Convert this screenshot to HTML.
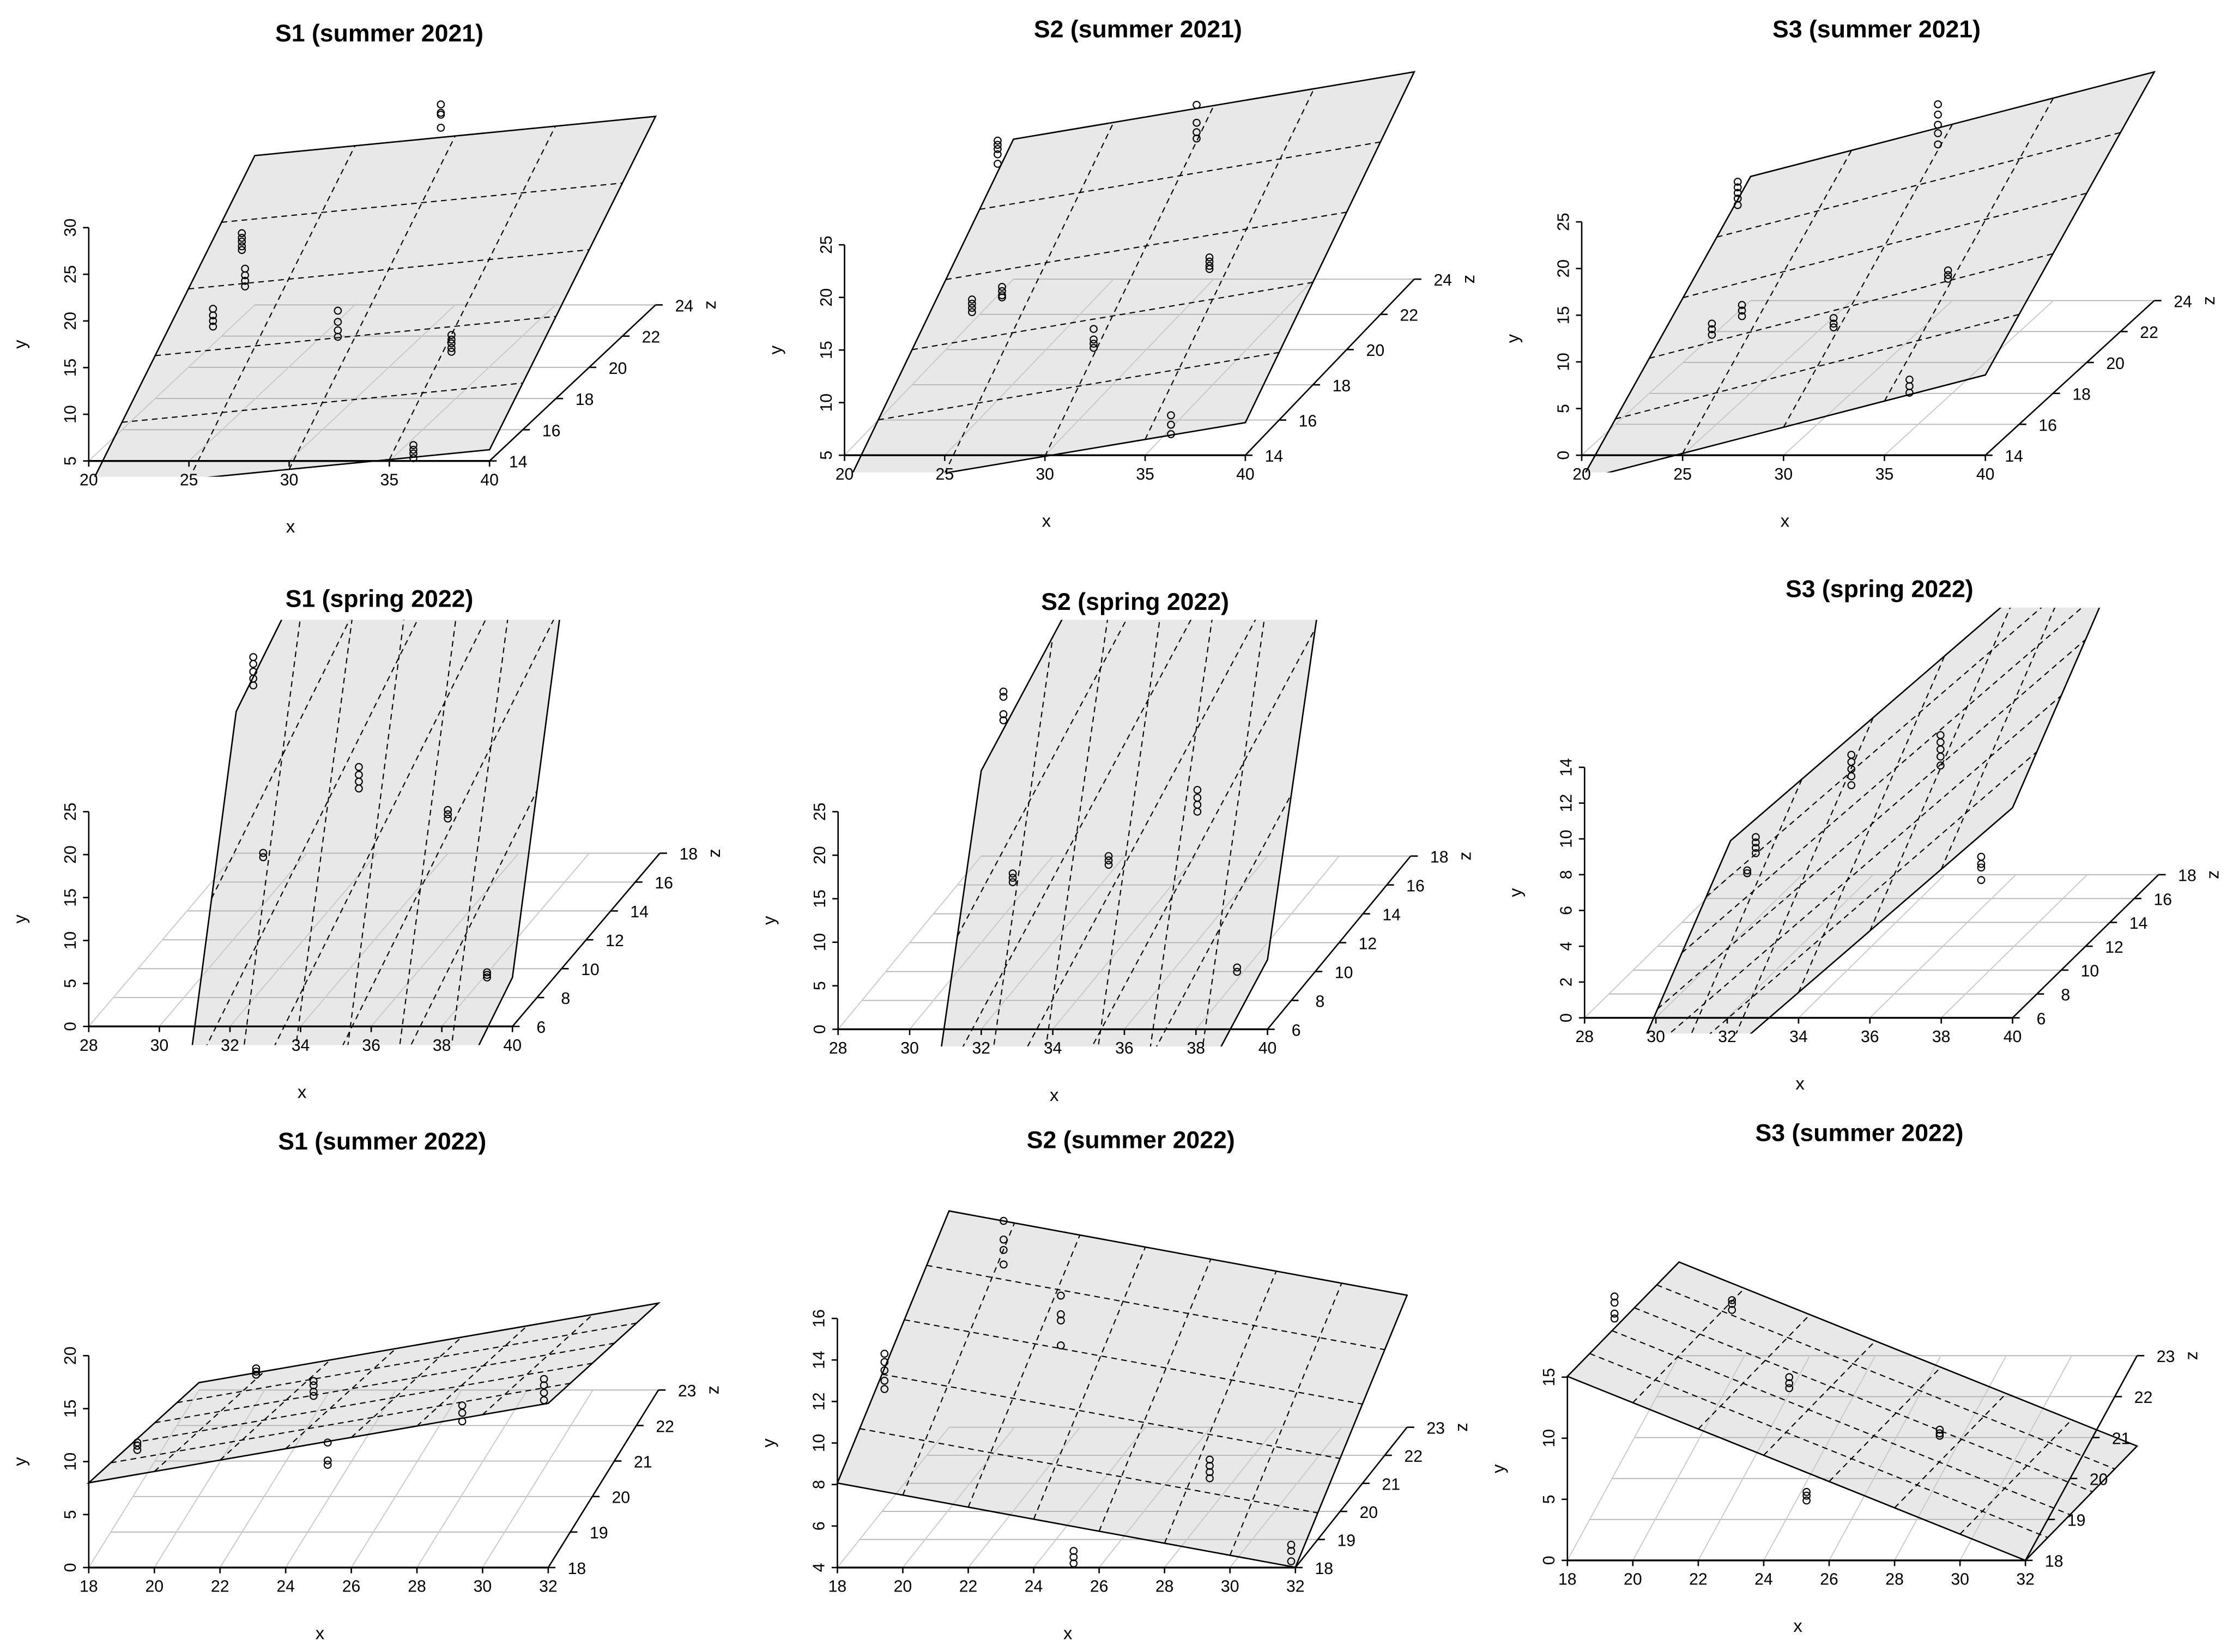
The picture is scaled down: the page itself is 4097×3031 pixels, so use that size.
<!DOCTYPE html>
<html><head><meta charset="utf-8"><title>3D regression planes</title>
<style>
html,body{margin:0;padding:0;background:#fff;width:4097px;height:3031px;overflow:hidden;position:relative;}
svg{display:block;position:absolute;left:0;top:0;font-family:"Liberation Sans",Arial,sans-serif;}
script{display:none;}
</style></head>
<body>
<svg id="chart" xmlns="http://www.w3.org/2000/svg" width="4097" height="3031" viewBox="0 0 1560 1154" preserveAspectRatio="none" overflow="hidden"></svg>
<script>
const s1su21X = [37.57, 27.64, 27.8, 26.2, 32.43, 38.1, 36.2];
const s1su21Y = [[43.2,42.3,42.1,40.7],[29.4,28.9,28.5,28.0,27.6],[25.6,24.9,24.3,23.7],[21.3,20.6,20.0,19.4],[21.1,19.9,19.0,18.3],[18.5,18.0,17.6,17.1,16.7],[6.7,6.2,5.8,5.3]];
const s1su21Z = [14,14,14,14,14,14,14];
const s1su21Plane = [-28.8, 0.21, 1.9];

const s2su21X = [27.64, 37.57, 26.36, 27.86, 38.21, 32.43, 36.29];
const s2su21Y = [[34.9,34.5,34.1,33.6,32.7],[38.3,36.6,35.7,35.1],[19.8,19.4,19.0,18.6],[21.0,20.6,20.2,20.0],[23.8,23.4,23.0,22.7],[17.0,16.0,15.6,15.2],[8.8,7.9,7.0]];
const s2su21Z = [14,14,14,14,14,14,14];
const s2su21Plane = [-27.94, 0.32, 1.66];

const s3su21X = [27.73, 37.65, 26.45, 27.94, 32.48, 38.15, 36.24];
const s3su21Y = [[29.3,28.7,28.1,27.5,26.8],[37.6,36.5,35.4,34.5,33.3],[14.1,13.5,12.9],[16.1,15.5,14.9],[14.7,14.1,13.7],[19.8,19.3,18.9],[8.1,7.4,6.7]];
const s3su21Z = [14,14,14,14,14,14,14];
const s3su21Plane = [-36.06, 0.56, 1.59];

const s1sp22X = [32.66, 32.94, 35.65, 38.17, 39.28];
const s1sp22Y = [[43.0,42.2,41.3,40.5,39.7],[20.2,19.7],[30.2,29.3,28.5,27.7],[25.2,24.7,24.2],[6.3,6.0,5.7]];
const s1sp22Z = [6,6,6,6,6];
const s1sp22Plane = [-381.5, 8.3, 9.2];

const s2sp22X = [32.62, 32.88, 35.56, 38.04, 39.15];
const s2sp22Y = [[38.8,38.2,36.2,35.5],[17.9,17.4,16.9],[19.9,19.4,18.9],[27.5,26.6,25.8,25.0],[7.1,6.6]];
const s2sp22Z = [6,6,6,6,6];
const s2sp22Plane = [-347.1, 7.7, 7.85];

const s3sp22X = [32.56, 32.8, 35.48, 37.98, 39.12];
const s3sp22Y = [[8.24,8.08],[10.1,9.8,9.5,9.2],[14.7,14.3,13.9,13.5,13.0],[15.8,15.4,15.0,14.6,14.1],[9.0,8.6,8.4,7.7]];
const s3sp22Z = [6,6,6,6,6];
const s3sp22Plane = [-62.46, 1.72, 0.9];

const s1su22X = [19.48, 23.1, 24.85, 25.28, 29.38, 31.87];
const s1su22Y = [[11.8,11.5,11.1],[18.8,18.5,18.2],[17.6,17.2,16.6,16.2],[11.8,10.1,9.7],[15.3,14.6,13.8],[17.8,17.2,16.5,15.8]];
const s1su22Z = [18,18,18,18,18,18];
const s1su22Plane = [24.63, 0.536, -1.46];

const s2su22X = [19.44, 23.08, 24.83, 29.38, 25.22, 31.87];
const s2su22Y = [[14.3,13.9,13.5,13.0,12.6],[20.7,19.8,19.3,18.6],[17.1,16.2,15.9,14.7],[9.2,8.9,8.6,8.3],[4.8,4.5,4.2],[5.1,4.8,4.3]];
const s2su22Z = [18,18,18,18,18,18];
const s2su22Plane = [-9.57, -0.29, 1.27];

const s3su22X = [19.44, 23.03, 24.78, 25.31, 29.38];
const s3su22Y = [[21.6,21.1,20.2,19.8],[21.3,21.0,20.5],[15.0,14.5,14.1],[5.6,5.3,4.9],[10.7,10.4,10.2]];
const s3su22Z = [18,18,18,18,18];
const s3su22Plane = [61.07, -1.076, -1.48];

const ticks20to40 = [20,25,30,35,40];
const ticks14to24 = [14,16,18,20,22,24];
const ticks28to40 = [28,30,32,34,36,38,40];
const ticks6to18 = [6,8,10,12,14,16,18];
const ticks18to32 = [18,20,22,24,26,28,30,32];
const ticks18to23 = [18,19,20,21,22,23];

const panels = [
 {id:'s1-summer-2021', title:'S1 (summer 2021)', tx:265, ty:23, X:s1su21X, Y:s1su21Y, Z:s1su21Z, P:s1su21Plane,
  xr:[20,40], yr:[5,30], zr:[14,24], xt:ticks20to40, yt:[5,10,15,20,25,30], zt:ticks14to24,
  ox:62, oy:322, xw:280, yh:163, dzx:116, dzy:-109, clip:[0,333]},
 {id:'s2-summer-2021', title:'S2 (summer 2021)', tx:795, ty:20, X:s2su21X, Y:s2su21Y, Z:s2su21Z, P:s2su21Plane,
  xr:[20,40], yr:[5,25], zr:[14,24], xt:ticks20to40, yt:[5,10,15,20,25], zt:ticks14to24,
  ox:590, oy:318, xw:280, yh:147, dzx:118, dzy:-123, clip:[0,330]},
 {id:'s3-summer-2021', title:'S3 (summer 2021)', tx:1311, ty:20, X:s3su21X, Y:s3su21Y, Z:s3su21Z, P:s3su21Plane,
  xr:[20,40], yr:[0,25], zr:[14,24], xt:ticks20to40, yt:[0,5,10,15,20,25], zt:ticks14to24,
  ox:1105, oy:318, xw:282, yh:163, dzx:118, dzy:-108, clip:[0,330]},
 {id:'s1-spring-2022', title:'S1 (spring 2022)', tx:265, ty:418, X:s1sp22X, Y:s1sp22Y, Z:s1sp22Z, P:s1sp22Plane,
  xr:[28,40], yr:[0,25], zr:[6,18], xt:ticks28to40, yt:[0,5,10,15,20,25], zt:ticks6to18,
  ox:62, oy:717, xw:296, yh:150, dzx:103, dzy:-121, clip:[433,730]},
 {id:'s2-spring-2022', title:'S2 (spring 2022)', tx:793, ty:420, X:s2sp22X, Y:s2sp22Y, Z:s2sp22Z, P:s2sp22Plane,
  xr:[28,40], yr:[0,25], zr:[6,18], xt:ticks28to40, yt:[0,5,10,15,20,25], zt:ticks6to18,
  ox:585.5, oy:719, xw:300, yh:152, dzx:100, dzy:-121, clip:[433,731]},
 {id:'s3-spring-2022', title:'S3 (spring 2022)', tx:1313, ty:411, X:s3sp22X, Y:s3sp22Y, Z:s3sp22Z, P:s3sp22Plane,
  xr:[28,40], yr:[0,14], zr:[6,18], xt:ticks28to40, yt:[0,2,4,6,8,10,12,14], zt:ticks6to18,
  ox:1107, oy:711, xw:299, yh:175, dzx:102, dzy:-100, clip:[424.5,722]},
 {id:'s1-summer-2022', title:'S1 (summer 2022)', tx:267, ty:797, X:s1su22X, Y:s1su22Y, Z:s1su22Z, P:s1su22Plane,
  xr:[18,32], yr:[0,20], zr:[18,23], xt:ticks18to32, yt:[0,5,10,15,20], zt:ticks18to23,
  ox:62, oy:1095, xw:321, yh:148, dzx:77, dzy:-124, clip:[815,1110]},
 {id:'s2-summer-2022', title:'S2 (summer 2022)', tx:790, ty:796, X:s2su22X, Y:s2su22Y, Z:s2su22Z, P:s2su22Plane,
  xr:[18,32], yr:[4,16], zr:[18,23], xt:ticks18to32, yt:[4,6,8,10,12,14,16], zt:ticks18to23,
  ox:585, oy:1095, xw:320, yh:174, dzx:78, dzy:-98, clip:[815,1110]},
 {id:'s3-summer-2022', title:'S3 (summer 2022)', tx:1299, ty:791, X:s3su22X, Y:s3su22Y, Z:s3su22Z, P:s3su22Plane,
  xr:[18,32], yr:[0,15], zr:[18,23], xt:ticks18to32, yt:[0,5,10,15], zt:ticks18to23,
  ox:1095, oy:1090, xw:320, yh:128, dzx:78, dzy:-143, clip:[815,1110]}
];

const NS = 'http://www.w3.org/2000/svg';
const svg = document.getElementById('chart');
function mk(tag, attrs, parent){
  const el = document.createElementNS(NS, tag);
  for (const k in attrs) el.setAttribute(k, attrs[k]);
  parent.appendChild(el);
  return el;
}
const defs = mk('defs', {}, svg);

panels.forEach((p, pi) => {
  const g = mk('g', {}, svg);
  
  
  const sx = v => (v - p.xr[0]) / (p.xr[1] - p.xr[0]);
  const sz = v => (v - p.zr[0]) / (p.zr[1] - p.zr[0]);
  const sy = v => (v - p.yr[0]) / (p.yr[1] - p.yr[0]);
  const proj = (x, y, z) => [p.ox + sx(x) * p.xw + sz(z) * p.dzx, p.oy - sy(y) * p.yh + sz(z) * p.dzy];
  const plane = (x, z) => p.P[0] + p.P[1] * x + p.P[2] * z;
  const [x0, x1] = p.xr, [y0, y1] = p.yr, [z0, z1] = p.zr;

  const cp = mk('clipPath', {id:'clip' + pi}, defs);
  mk('rect', {x:p.ox - 70, y:p.clip[0], width:560, height:p.clip[1] - p.clip[0]}, cp);

  const t = mk('text', {x:p.tx, y:p.ty + 6, 'text-anchor':'middle', 'font-size':17, 'font-weight':'bold'}, g);
  t.textContent = p.title;
  
  

  const corners = [[x0,z0],[x1,z0],[x1,z1],[x0,z1]].map(c => proj(c[0], plane(c[0], c[1]), c[1]));
  const pts = corners.map(c => c.join(',')).join(' ');
  const pf = mk('polygon', {points:pts, fill:'#e8e8e8', stroke:'none', 'clip-path':'url(#clip' + pi + ')'}, g);
  
  

  const grid = mk('g', {stroke:'#b4b4b4', 'stroke-width':0.7}, g);
  
  
  p.zt.forEach(z => {
    const a = proj(x0, y0, z), b = proj(x1, y0, z);
    const l = mk('line', {x1:a[0], y1:a[1], x2:b[0], y2:b[1]}, grid);
    
    
  });
  p.xt.forEach(x => {
    const a = proj(x, y0, z0), b = proj(x, y0, z1);
    const l = mk('line', {x1:a[0], y1:a[1], x2:b[0], y2:b[1], stroke:'#c8c8c8'}, grid);
    
    
  });

  const dg = mk('g', {stroke:'#000', 'stroke-width':0.8, 'stroke-dasharray':'4,3', fill:'none', 'clip-path':'url(#clip' + pi + ')'}, g);
  
  
  p.xt.filter(x => x > x0 && x < x1).forEach(x => {
    const a = proj(x, plane(x, z0), z0), b = proj(x, plane(x, z1), z1);
    const l = mk('line', {x1:a[0], y1:a[1], x2:b[0], y2:b[1]}, dg);
    
    
  });
  p.zt.filter(z => z > z0 && z < z1).forEach(z => {
    const a = proj(x0, plane(x0, z), z), b = proj(x1, plane(x1, z), z);
    const l = mk('line', {x1:a[0], y1:a[1], x2:b[0], y2:b[1]}, dg);
    
    
  });

  const pb = mk('polygon', {points:pts, fill:'none', stroke:'#000', 'stroke-width':1, 'clip-path':'url(#clip' + pi + ')'}, g);
  
  

  const ax = mk('g', {stroke:'#000', 'stroke-width':1, 'font-size':11.5, fill:'#000'}, g);
  
  
  let a = proj(x0, y0, z0), b = proj(x1, y0, z0);
  const xl = mk('line', {x1:a[0], y1:a[1], x2:b[0], y2:b[1], 'stroke-width':1.3}, ax);
  
  
  p.xt.forEach(x => {
    const q = proj(x, y0, z0);
    const tk = mk('line', {x1:q[0], y1:q[1], x2:q[0], y2:q[1] + 4}, ax);
    
    
    const tl = mk('text', {x:q[0], y:q[1] + 17, 'text-anchor':'middle', stroke:'none'}, ax);
    tl.textContent = x;
    
    
  });
  b = proj(x0, y1, z0);
  const yl = mk('line', {x1:a[0], y1:a[1], x2:b[0], y2:b[1]}, ax);
  
  
  p.yt.forEach(y => {
    const q = proj(x0, y, z0);
    const tk = mk('line', {x1:q[0] - 4, y1:q[1], x2:q[0], y2:q[1]}, ax);
    
    
    const tl = mk('text', {x:0, y:0, transform:'translate(' + (q[0] - 9) + ',' + q[1] + ') rotate(-90)', 'text-anchor':'middle', stroke:'none'}, ax);
    tl.textContent = y;
    
    
  });
  a = proj(x1, y0, z0); b = proj(x1, y0, z1);
  const zl = mk('line', {x1:a[0], y1:a[1], x2:b[0], y2:b[1]}, ax);
  
  
  p.zt.forEach(z => {
    const q = proj(x1, y0, z);
    const tk = mk('line', {x1:q[0], y1:q[1], x2:q[0] + 5, y2:q[1]}, ax);
    
    
    const tl = mk('text', {x:q[0] + 20, y:q[1] + 4.5, 'text-anchor':'middle', stroke:'none'}, ax);
    tl.textContent = z;
    
    
  });
  const xt = mk('text', {x:p.ox + p.xw / 2 + 1, y:p.oy + 50, 'text-anchor':'middle', 'font-size':12.5}, g);
  xt.textContent = 'x';
  
  
  const ym = p.oy - p.yh / 2;
  const yt = mk('text', {x:0, y:0, transform:'translate(' + (p.ox - 44) + ',' + ym + ') rotate(-90)', 'text-anchor':'middle', 'font-size':12.5}, g);
  yt.textContent = 'y';
  
  
  const ze = proj(x1, y0, z1);
  const zt = mk('text', {x:0, y:0, transform:'translate(' + (ze[0] + 42) + ',' + ze[1] + ') rotate(-90)', 'text-anchor':'middle', 'font-size':12.5}, g);
  zt.textContent = 'z';
  
  

  const pg = mk('g', {fill:'none', stroke:'#000', 'stroke-width':0.8}, g);
  
  
  p.X.forEach((x, i) => {
    p.Y[i].forEach(y => {
      const q = proj(x, y, p.Z[i]);
      const c = mk('ellipse', {cx:q[0], cy:q[1], rx:2.4, ry:2.4}, pg);
      
      
    });
  });
});
</script>
</body></html>
